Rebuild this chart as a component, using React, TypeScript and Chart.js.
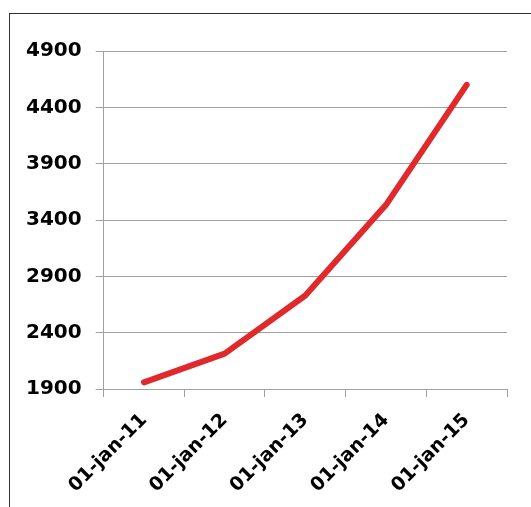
import React, { useEffect, useRef } from "react";
import { Chart, registerables } from "chart.js";

Chart.register(...registerables);

const categories: string[] = ["01-jan-11", "01-jan-12", "01-jan-13", "01-jan-14", "01-jan-15"];
const values: number[] = [1960, 2215, 2730, 3535, 4600];
const yMin = 1900;
const yMax = 4900;
const yStep = 500;

export default function App() {
  const ref = useRef<HTMLCanvasElement | null>(null);

  useEffect(() => {
    if (!ref.current) return;
    const yFont = { family: "'DejaVu Sans', Arial, sans-serif", size: 20, weight: "bold" as const };
    const xFont = { family: "'DejaVu Sans', Arial, sans-serif", size: 19, weight: "bold" as const };
    const chart = new Chart(ref.current, {
      type: "line",
      data: {
        labels: categories,
        datasets: [
          {
            data: values,
            borderColor: "#e0292b",
            borderWidth: 6,
            borderCapStyle: "round",
            borderJoinStyle: "round",
            pointRadius: 0,
            tension: 0,
            fill: false,
          },
        ],
      },
      options: {
        animation: false,
        responsive: false,
        maintainAspectRatio: false,
        layout: { padding: { left: 12, right: 24, top: 51, bottom: -2 } },
        plugins: { legend: { display: false }, tooltip: { enabled: false } },
        scales: {
          x: {
            type: "category",
            offset: true,
            grid: {
              offset: true,
              drawOnChartArea: false,
              drawTicks: true,
              tickLength: 8,
              color: "#a0a0a0",
              lineWidth: 1,
            },
            border: { display: true, color: "#a0a0a0", width: 1 },
            ticks: {
              color: "#000",
              font: xFont,
              minRotation: 45,
              maxRotation: 45,
              padding: 12,
              autoSkip: false,
            },
          },
          y: {
            min: yMin,
            max: yMax,
            grid: {
              color: "#a0a0a0",
              lineWidth: 1,
              drawTicks: true,
              tickLength: 8,
            },
            border: { display: true, color: "#a0a0a0", width: 1 },
            ticks: {
              stepSize: yStep,
              color: "#000",
              font: yFont,
              padding: 14,
              callback: (v: any) => String(v),
            },
          },
        },
      },
    });
    return () => chart.destroy();
  }, []);

  return (
    <div
      style={{
        position: "fixed",
        left: 0,
        top: 0,
        width: 531,
        height: 507,
        overflow: "hidden",
        background: "#fff",
      }}
    >
      <div
        style={{
          position: "absolute",
          left: 9,
          top: 13,
          width: 1000,
          height: 1000,
          border: "1px solid #333",
        }}
      />
      <canvas
        ref={ref}
        width={531}
        height={507}
        style={{ position: "absolute", left: 0, top: 0, width: 531, height: 507 }}
      />
    </div>
  );
}
